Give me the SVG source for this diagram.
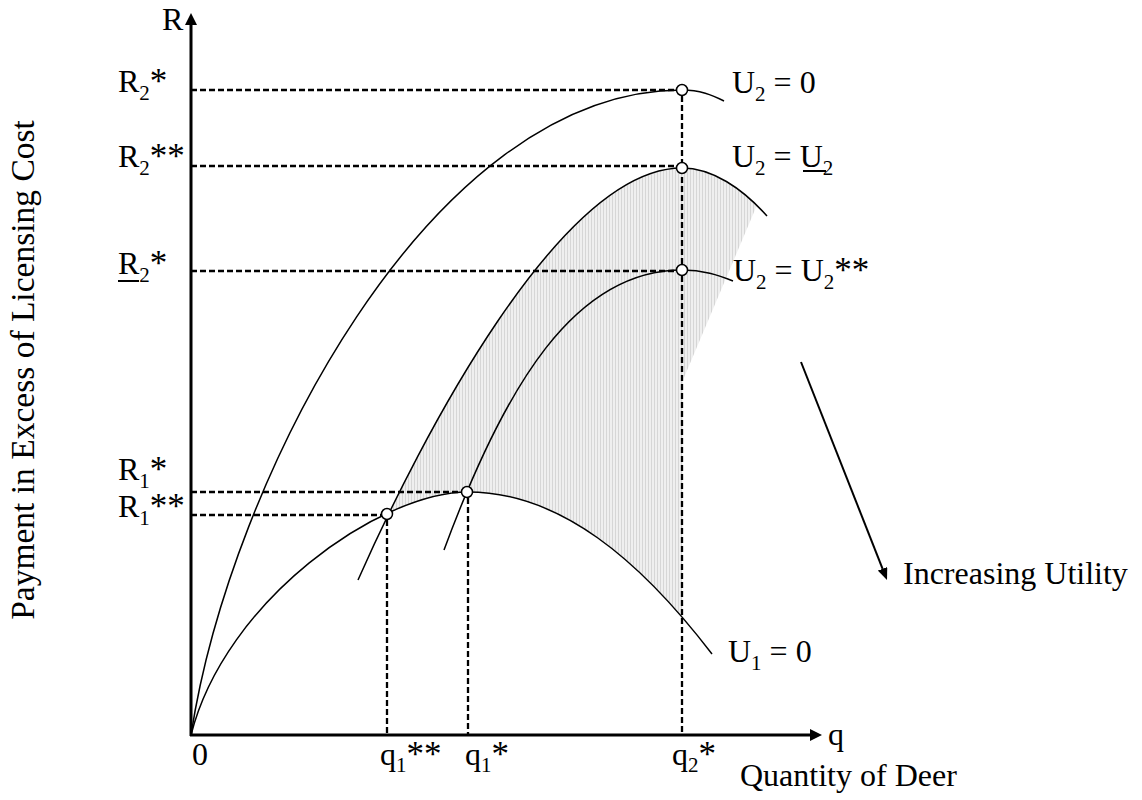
<svg xmlns="http://www.w3.org/2000/svg" width="1142" height="800" viewBox="0 0 1142 800">
<style>
.t{font-family:"Liberation Serif","Times New Roman",serif;font-size:32px;fill:#000}
.s{font-size:21px}
.a{font-size:35px}
.axis{stroke:#000;stroke-width:3;fill:none}
.curve{stroke:#000;stroke-width:1.5;fill:none}
.dash{stroke:#000;stroke-width:2.3;stroke-dasharray:6 3;fill:none}
.pt{fill:#fff;stroke:#000;stroke-width:1.5}
.ul{stroke:#000;stroke-width:2}
</style>
<defs>
<marker id="axh" viewBox="0 0 12 12" refX="0" refY="6" markerWidth="12" markerHeight="12" markerUnits="userSpaceOnUse" orient="auto"><path d="M0,0 L12,6 L0,12 Z" fill="#000"/></marker>
<marker id="uh" viewBox="0 0 12 10" refX="0" refY="5" markerWidth="12" markerHeight="10" markerUnits="userSpaceOnUse" orient="auto"><path d="M0,0 L12,5 L0,10 Z" fill="#000"/></marker>
<pattern id="hatch" width="3" height="10" patternUnits="userSpaceOnUse"><rect width="3" height="10" fill="#efefef"/><rect width="1" height="10" fill="#d6d6d6"/></pattern>
<clipPath id="aboveU1"><path d="M191,735 C225,600 380,492 468,492 C560,492 640,560 712,654 L820,654 L820,0 L100,0 L100,735 Z"/></clipPath>
</defs>
<rect width="1142" height="800" fill="#fff"/>
<g id="shading"><path d="M358,580 C420,440 560,168 682,168 C705,168 735,184 757,205 L683,380 L682,700 L358,700 Z" fill="url(#hatch)" clip-path="url(#aboveU1)"/></g>
<g id="guides">
<path class="dash" d="M191,90 H676 M682,96 V735"/>
<path class="dash" d="M191,166 H676"/>
<path class="dash" d="M191,271 H676"/>
<path class="dash" d="M191,492 H461 M468,498 V735"/>
<path class="dash" d="M191,515 H381 M387,520 V735"/>
</g>
<g id="curves">
<path id="U2_0" class="curve" d="M191,735 C230,480 430,90 682,90 C700,90 712,95 724,101"/>
<path id="U2_U2" class="curve" d="M358,580 C420,440 560,168 682,168 C712,168 742,188 767,216"/>
<path id="U2_U2ss" class="curve" d="M444,550 C505,385 575,270 682,270 C703,270 718,275 733,281"/>
<path id="U1_0" class="curve" d="M191,735 C225,600 380,492 468,492 C560,492 640,560 712,654"/>
</g>
<g id="axes">
<path class="axis" d="M191,736 V25" marker-end="url(#axh)"/>
<path class="axis" d="M190,735 H810" marker-end="url(#axh)"/>
</g>
<g id="connectors">
<path class="curve" style="stroke-width:2" d="M801,362 L882.6,568.8" marker-end="url(#uh)"/>
</g>
<g id="points">
<circle class="pt" cx="682" cy="90" r="5.5"/>
<circle class="pt" cx="682" cy="168" r="5.5"/>
<circle class="pt" cx="682" cy="270" r="5.5"/>
<circle class="pt" cx="467" cy="492" r="5.5"/>
<circle class="pt" cx="387" cy="514" r="5.5"/>
</g>
<g id="labels">
<text class="t" x="162" y="30">R</text>
<text class="t" x="118" y="92">R<tspan class="s" dy="8">2</tspan><tspan class="a" dy="-7">*</tspan></text>
<text class="t" x="118" y="167">R<tspan class="s" dy="8">2</tspan><tspan class="a" dy="-7">**</tspan></text>
<text class="t" x="118" y="274">R<tspan class="s" dy="8">2</tspan><tspan class="a" dy="-7">*</tspan></text>
<line class="ul" x1="118" y1="281" x2="139" y2="281"/>
<text class="t" x="118" y="480">R<tspan class="s" dy="8">1</tspan><tspan class="a" dy="-7">*</tspan></text>
<text class="t" x="118" y="517">R<tspan class="s" dy="8">1</tspan><tspan class="a" dy="-7">**</tspan></text>
<text class="t" x="732" y="93">U<tspan class="s" dy="8">2</tspan><tspan dy="-8"> = 0</tspan></text>
<text class="t" x="732" y="167">U<tspan class="s" dy="8">2</tspan><tspan dy="-8"> = U</tspan><tspan class="s" dy="8">2</tspan></text>
<line class="ul" x1="803" y1="171" x2="826" y2="171"/>
<text class="t" x="733" y="281">U<tspan class="s" dy="8">2</tspan><tspan dy="-8"> = U</tspan><tspan class="s" dy="8">2</tspan><tspan class="a" dy="-7">**</tspan></text>
<text class="t" x="728" y="662">U<tspan class="s" dy="8">1</tspan><tspan dy="-8"> = 0</tspan></text>
<text class="t" x="903" y="584">Increasing Utility</text>
<text class="t" x="192" y="765">0</text>
<text class="t" x="380" y="765">q<tspan class="s" dy="7">1</tspan><tspan class="a" dy="-6">**</tspan></text>
<text class="t" x="465" y="765">q<tspan class="s" dy="7">1</tspan><tspan class="a" dy="-6">*</tspan></text>
<text class="t" x="672" y="765">q<tspan class="s" dy="7">2</tspan><tspan class="a" dy="-6">*</tspan></text>
<text class="t" x="828" y="745">q</text>
<text class="t" x="740" y="786">Quantity of Deer</text>
<text class="t" style="font-size:33.5px" text-anchor="middle" transform="translate(34,370) rotate(-90)">Payment in Excess of Licensing Cost</text>
</g>
</svg>
